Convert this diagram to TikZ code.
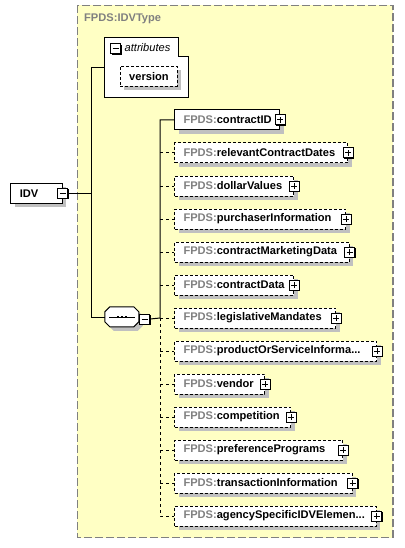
\documentclass[tikz,border=0pt]{standalone}
\usepackage{fontspec}
\setmainfont{Liberation Sans}
\usetikzlibrary{shadows}

\definecolor{typebg}{RGB}{255,255,196}
\definecolor{nsgray}{RGB}{128,128,128}
\definecolor{shadowgray}{RGB}{192,192,192}

\newcommand{\fp}[1]{{\color{nsgray}FPDS:}#1}

\tikzset{
  labelfont/.style={font=\fontsize{11.1}{12}\bfseries\selectfont},
  elem/.style={draw, fill=white, line width=1pt, minimum height=20pt, inner xsep=9pt, inner ysep=0pt,
    anchor=west, align=left, text width=#1, labelfont,
    drop shadow={shadow xshift=4pt, shadow yshift=-4pt, fill=shadowgray, opacity=1}},
  elem/.default=80pt,
  optional/.style={dash pattern=on 3pt off 2pt},
  conn/.style={line width=1pt},
  connopt/.style={line width=1pt, dash pattern=on 3pt off 3pt},
  pbox/.style={draw, fill=white, line width=1pt, minimum size=10pt, inner sep=0pt,
    drop shadow={shadow xshift=1pt, shadow yshift=-1pt, fill=black, opacity=1},
    path picture={\draw[line width=1pt] ([xshift=-3pt]path picture bounding box.center) -- ([xshift=3pt]path picture bounding box.center)
      ([yshift=-3pt]path picture bounding box.center) -- ([yshift=3pt]path picture bounding box.center);}},
  mbox/.style={draw, fill=white, line width=1pt, minimum size=10pt, inner sep=0pt,
    drop shadow={shadow xshift=1pt, shadow yshift=-1pt, fill=black, opacity=1},
    path picture={\draw[line width=1pt] ([xshift=-3pt]path picture bounding box.center) -- ([xshift=3pt]path picture bounding box.center);}},
  seqbox/.style={minimum width=34pt, minimum height=20pt, inner sep=0pt}
}

\begin{document}
\begin{tikzpicture}[x=1pt, y=-1pt]
\useasboundingbox (0,0) rectangle (404,548);

% complex type
\draw[fill=typebg, draw=nsgray, line width=1.3pt, dash pattern=on 8pt off 3pt] (77.3,5.3) rectangle (393,537.5);
\node[anchor=west, inner sep=0pt, text=nsgray, labelfont] (tname) at (84,19) {FPDS:IDVType};

% root element
\node[elem=33.5pt] (idv) at (10.3,193.3) {IDV};
\node[mbox] (idvm) at (idv.east) {};

% attributes
\node[minimum width=83pt, minimum height=59pt, inner sep=0pt] (attr) at (146.5,67.5) {};
\draw[fill=white, line width=1pt] (attr.north west) -- ([xshift=-10pt]attr.north east) -- ++(0,19) -- ++(10,0)
  -- (attr.south east) -- (attr.south west) -- cycle;
\node[mbox] (attrm) at (115.5,49) {};
\node[anchor=west, inner sep=0pt, font=\fontsize{11.1}{12}\itshape\selectfont] (attrt) at (124.5,48) {attributes};
\node[elem=39pt, optional] (ver) at (119.7,76.2) {version};

% sequence
\node[seqbox] (seq) at (122,317) {};
\fill[shadowgray] ([xshift=9pt, yshift=-4pt]seq.north west) -- ++(24,0) -- ++(5,5) -- ++(0,10) -- ++(-5,5)
  -- ++(-24,0) -- ++(-5,-5) -- ++(0,-10) -- cycle;
\draw[fill=white, line width=1pt] ([xshift=5pt]seq.north west) -- ++(24,0) -- ++(5,5) -- ++(0,10) -- ++(-5,5)
  -- ++(-24,0) -- ++(-5,-5) -- ++(0,-10) -- cycle;
\draw[line width=1pt] ([xshift=-13pt]seq.center) -- ([xshift=13pt]seq.center);
\foreach \d in {-4,0,4} \fill ([xshift=\d pt-1.3pt, yshift=1.3pt]seq.center) rectangle ++(2.6,2.6);
\node[mbox, anchor=west] (seqm) at ([yshift=-2pt]seq.east) {};

% children
\node[elem=87pt] (cid) at (174,120) {\fp{contractID}};
\node[elem=155pt, optional] (rcd) at (174,153) {\fp{relevantContractDates}};
\node[elem=101pt, optional] (dol) at (174,186) {\fp{dollarValues}};
\node[elem=153pt, optional] (pur) at (174,219) {\fp{purchaserInformation}};
\node[elem=156.5pt, optional] (cmd) at (174,252) {\fp{contractMarketingData}};
\node[elem=101pt, optional] (cdat) at (174,285) {\fp{contractData}};
\node[elem=143pt, optional] (leg) at (174,318) {\fp{legislativeMandates}};
\node[elem=184pt, optional] (pos) at (174,351) {\fp{productOrServiceInforma...}};
\node[elem=72pt, optional] (ven) at (174,384) {\fp{vendor}};
\node[elem=98pt, optional] (comp) at (174,417) {\fp{competition}};
\node[elem=150pt, optional] (pref) at (174,450) {\fp{preferencePrograms}};
\node[elem=159.5pt, optional] (tran) at (174,483) {\fp{transactionInformation}};
\node[elem=183.5pt, optional] (agen) at (174,516) {\fp{agencySpecificIDVElemen...}};

\node[pbox] (cidp) at (cid.east) {};
\node[pbox] (rcdp) at (rcd.east) {};
\node[pbox] (dolp) at (dol.east) {};
\node[pbox] (purp) at (pur.east) {};
\node[pbox] (cmdp) at (cmd.east) {};
\node[pbox] (cdatp) at (cdat.east) {};
\node[pbox] (legp) at (leg.east) {};
\node[pbox] (posp) at (pos.east) {};
\node[pbox] (venp) at (ven.east) {};
\node[pbox] (compp) at (comp.east) {};
\node[pbox] (prefp) at (pref.east) {};
\node[pbox] (tranp) at (tran.east) {};
\node[pbox] (agenp) at (agen.east) {};

% connectors
\coordinate (j1) at (91,317);
\coordinate (j2) at (160,318);
\draw[conn] (idvm.east) -- (idvm.east -| j1);
\draw[conn] (attr.west) -| (j1) -- (seq.west);
\draw[conn] (seqm.east) -- (j2) |- (cid.west);
\draw[connopt] (j2) |- (agen.west);
\draw[connopt] (j2 |- rcd.west) -- (rcd.west);
\draw[connopt] (j2 |- dol.west) -- (dol.west);
\draw[connopt] (j2 |- pur.west) -- (pur.west);
\draw[connopt] (j2 |- cmd.west) -- (cmd.west);
\draw[connopt] (j2 |- cdat.west) -- (cdat.west);
\draw[connopt] (j2 |- leg.west) -- (leg.west);
\draw[connopt] (j2 |- pos.west) -- (pos.west);
\draw[connopt] (j2 |- ven.west) -- (ven.west);
\draw[connopt] (j2 |- comp.west) -- (comp.west);
\draw[connopt] (j2 |- pref.west) -- (pref.west);
\draw[connopt] (j2 |- tran.west) -- (tran.west);

\end{tikzpicture}
\end{document}
